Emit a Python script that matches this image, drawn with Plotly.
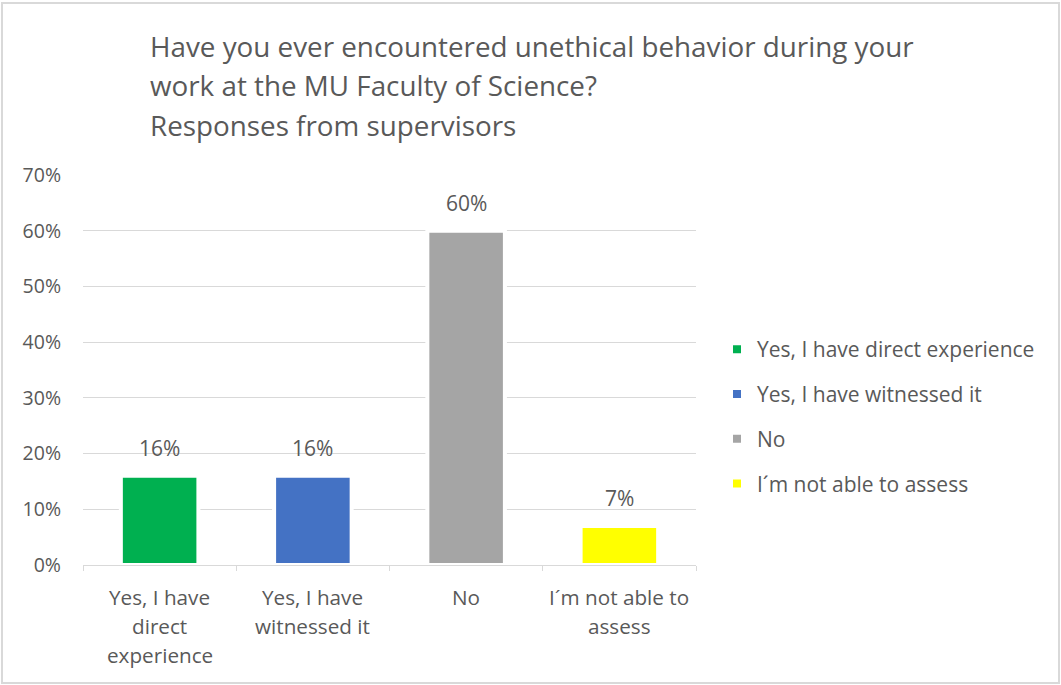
import plotly.graph_objects as go

# Survey answers and shares
categories = [
    "Yes, I have direct experience",
    "Yes, I have witnessed it",
    "No",
    "I´m not able to assess",
]
shares = [0.16, 0.16, 0.60, 0.07]
colors = ["#00B050", "#4472C4", "#A5A5A5", "#FFFF00"]

# Wrapped category labels shown below the axis
axis_label_lines = [
    ["Yes, I have", "direct", "experience"],
    ["Yes, I have", "witnessed it"],
    ["No"],
    ["I´m not able to", "assess"],
]

title_lines = [
    "Have you ever encountered unethical behavior during your",
    "work at the MU Faculty of Science?",
    "Responses from supervisors",
]

y_ticks = [0, 0.1, 0.2, 0.3, 0.4, 0.5, 0.6, 0.7]

FONT = "Open Sans"
TEXT = "#595959"
GRID = "#D9D9D9"

W, H = 1061, 685
L, R, T, B = 83, 365, 175, 120
plot_w = W - L - R
plot_h = H - T - B


def px_x(px):
    return (px - L) / plot_w


def px_y(py):
    return (H - B - py) / plot_h


fig = go.Figure()
for i, (cat, val, col) in enumerate(zip(categories, shares, colors)):
    fig.add_trace(go.Bar(
        x=[cat], y=[val], name=cat,
        marker=dict(color=col, line=dict(color="white", width=4)),
        width=0.506, legendgroup=f"g{i}",
        hoverinfo="skip",
    ))

annotations = []
# value labels above bars
for cat, val in zip(categories, shares):
    annotations.append(dict(
        x=cat, y=val, xref="x", yref="y", text=f"{val:.0%}",
        showarrow=False, yanchor="middle", yshift=28,
        font=dict(family=FONT, size=21, color=TEXT),
    ))

# category labels, one line each
for cat, lines in zip(categories, axis_label_lines):
    for j, line in enumerate(lines):
        annotations.append(dict(
            x=cat, y=0, xref="x", yref="paper", text=line,
            showarrow=False, yanchor="middle", yshift=-32 - 29 * j,
            font=dict(family=FONT, size=20.7, color=TEXT),
        ))

# title lines
for j, line in enumerate(title_lines):
    annotations.append(dict(
        x=px_x(148), y=px_y(46 + 39.5 * j), xref="paper", yref="paper",
        text=line, showarrow=False, xanchor="left", yanchor="middle",
        font=dict(family=FONT, size=27.8, color=TEXT),
    ))

fig.update_layout(
    width=W, height=H,
    margin=dict(l=L, r=R, t=T, b=B, pad=0),
    paper_bgcolor="white", plot_bgcolor="white",
    barmode="overlay",
    showlegend=True,
    legend=dict(
        x=px_x(717), y=px_y(329), xanchor="left", yanchor="top",
        traceorder="grouped", tracegroupgap=14.5,
        font=dict(family=FONT, size=21, color=TEXT),
        bgcolor="rgba(0,0,0,0)",
    ),
    xaxis=dict(
        type="category", showline=True, linecolor=GRID, linewidth=1,
        ticks="outside", tickson="boundaries", ticklen=5, tickcolor=GRID,
        showticklabels=False, showgrid=False, fixedrange=True,
    ),
    yaxis=dict(
        range=[0, 0.7], tickvals=y_ticks, tickformat=".0%",
        showgrid=True, gridcolor=GRID, gridwidth=1, zeroline=False,
        showline=False, ticks="", ticklabelstandoff=21,
        tickfont=dict(family=FONT, size=19.5, color=TEXT), fixedrange=True,
    ),
    annotations=annotations,
    shapes=[dict(
        type="rect", xref="paper", yref="paper", layer="below",
        x0=px_x(2), x1=px_x(1059), y0=px_y(683), y1=px_y(3),
        line=dict(color=GRID, width=2), fillcolor="rgba(0,0,0,0)",
    )],
)

fig.write_html("out.html")
